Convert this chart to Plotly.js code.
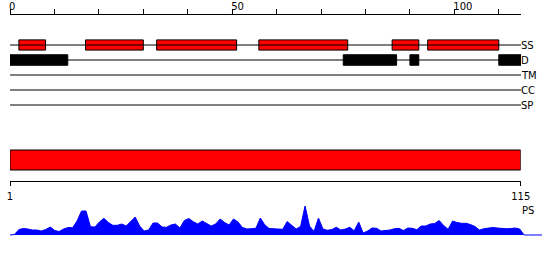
<!DOCTYPE html>
<html>
<head>
<meta charset="utf-8">
<script src="https://cdn.plot.ly/plotly-3.0.1.min.js"></script>
<style>html,body{margin:0;padding:0;background:#fff;}#chart{width:550px;height:260px;}</style>
</head>
<body>
<div id="chart"></div>
<script>
// ---- data ----
const trackNames = ['SS', 'D', 'TM', 'CC', 'SP'];
const seqLength = 115;
const ssStart = [2, 17, 33, 56, 86, 94];
const ssEnd   = [8, 30, 51, 76, 92, 110];
const dStart  = [0, 75, 90, 110];
const dEnd    = [13, 87, 92, 115];
const domainStart = [1];
const domainEnd = [115];
const domainLabel = 'PS';
const rulerTicks = [1, 115];
const topTicks = [0, 50, 100];
const profileValues = [
  0, 0.5, 5.5, 6.5, 6, 5, 5, 4, 5.5, 8,
  4.5, 3.5, 6, 7.5, 7.3, 14, 24, 24, 8.3, 8,
  13, 16.7, 12.5, 9.7, 9.7, 11, 9, 13, 18, 9,
  4, 5, 12, 12, 8, 7.7, 10, 11, 7, 14.5,
  16.5, 13.3, 11, 14, 11.5, 9, 11, 16, 12.5, 10,
  16, 13, 7.5, 6, 6.3, 6.7, 17, 10, 6.5, 6,
  5.7, 5.7, 13.5, 9.5, 6, 8.5, 29, 9, 3.5, 17,
  6, 4.7, 5.5, 7.7, 5, 6, 7.7, 4.3, 13, 2,
  4, 7, 6.7, 4, 4.5, 5, 6.3, 6.7, 4.5, 7,
  6.7, 5.3, 9, 9, 11, 11.5, 14.5, 9.5, 5.7, 14,
  12.5, 11.7, 11.7, 10.5, 8.5, 5, 6.3, 6.7, 7.5, 7,
  6.3, 6.3, 6.5, 7, 6, 0, 0, 0, 0, 0
];
const profilePos = profileValues.map((v, i) => i + 1);

// ---- traces ----
const FONT = 'DejaVu Sans, sans-serif';
const traces = [];
trackNames.forEach((t, i) => {
  traces.push({type: 'scatter', mode: 'lines', x: [0, seqLength], y: [i, i],
    xaxis: 'x', yaxis: 'y', line: {color: '#000', width: 1}, hoverinfo: 'skip'});
});
traces.push({type: 'bar', orientation: 'h', xaxis: 'x', yaxis: 'y',
  base: ssStart, x: ssEnd.map((e, i) => e - ssStart[i]), y: ssStart.map(() => 0),
  width: 0.68, marker: {color: '#ff0000', line: {color: '#000', width: 1}}});
traces.push({type: 'bar', orientation: 'h', xaxis: 'x', yaxis: 'y',
  base: dStart, x: dEnd.map((e, i) => e - dStart[i]), y: dStart.map(() => 1),
  width: 0.7, marker: {color: '#000', line: {color: '#000', width: 1}}});
traces.push({type: 'bar', orientation: 'h', xaxis: 'x2', yaxis: 'y2',
  base: domainStart, x: domainEnd.map((e, i) => e - domainStart[i]), y: [0],
  width: 20, marker: {color: '#ff0000', line: {color: '#000', width: 1}}});
traces.push({type: 'scatter', mode: 'lines', xaxis: 'x3', yaxis: 'y3',
  x: profilePos, y: profileValues, fill: 'tozeroy', fillcolor: '#0000ff',
  line: {color: '#0000ff', width: 1}, hoverinfo: 'skip'});

const H = 260;
const py = px => 1 - px / H;
const xDom = 511 / 532;

const annotations = trackNames.map((t, i) => ({
  text: t, xref: 'paper', x: xDom, xanchor: 'left', yref: 'y', y: i, yanchor: 'middle',
  showarrow: false, font: {family: FONT, size: 10, color: '#000'}, borderpad: 0, xshift: -1
}));
annotations.push({text: domainLabel, xref: 'paper', x: xDom, xanchor: 'left', yref: 'paper', y: py(210),
  yanchor: 'middle', showarrow: false, font: {family: FONT, size: 10, color: '#000'}, borderpad: 0, xshift: 0});

const layout = {
  width: 550, height: 260,
  margin: {l: 10, r: 8, t: 0, b: 0, pad: 0},
  paper_bgcolor: '#fff', plot_bgcolor: 'rgba(0,0,0,0)',
  showlegend: false, barmode: 'overlay',
  font: {family: FONT, size: 10, color: '#000'},
  xaxis: {domain: [0, xDom], range: [0, seqLength], side: 'top', anchor: 'y',
    showline: true, linecolor: '#000', linewidth: 1, showgrid: false, zeroline: false,
    ticks: 'outside', ticklen: 5, tickcolor: '#000', tickwidth: 1,
    tickmode: 'array', tickvals: topTicks, ticklabelposition: 'outside right', ticklabelshift: -2,
    minor: {dtick: 10, tick0: 0, ticks: 'outside', ticklen: 5, tickcolor: '#000', tickwidth: 1, showgrid: false},
    tickfont: {family: FONT, size: 10, color: '#000'}, fixedrange: true},
  yaxis: {domain: [py(110), py(15)], range: [4.3333, -2], anchor: 'x', visible: false, fixedrange: true},
  xaxis2: {domain: [0, 0.96], range: [1, seqLength], anchor: 'y2', side: 'bottom',
    showline: true, linecolor: '#000', linewidth: 1, showgrid: false, zeroline: false,
    ticks: 'outside', ticklen: 4, tickcolor: '#000', tickwidth: 1, ticklabelstandoff: 2,
    tickmode: 'array', tickvals: rulerTicks, ticktext: rulerTicks.map(String),
    tickfont: {family: FONT, size: 10, color: '#000'}, fixedrange: true},
  yaxis2: {domain: [py(181), py(140)], range: [-21, 20], anchor: 'x2', visible: false, fixedrange: true},
  xaxis3: {domain: [0, 1], range: [1, 120], anchor: 'y3', visible: false, fixedrange: true},
  yaxis3: {domain: [py(236), py(200)], range: [-1, 35], anchor: 'x3', visible: false, fixedrange: true},
  annotations: annotations
};

Plotly.newPlot('chart', traces, layout, {displayModeBar: false, staticPlot: true});
</script>
</body>
</html>
